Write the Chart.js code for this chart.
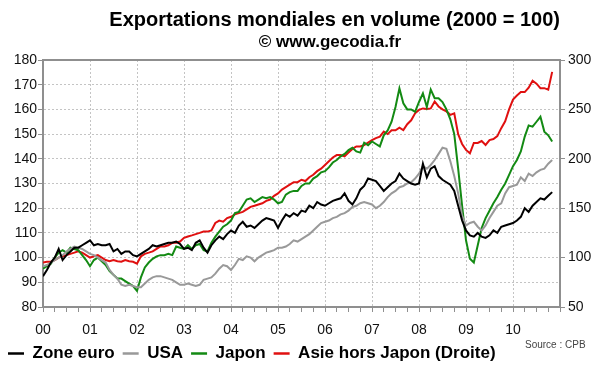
<!DOCTYPE html>
<html>
<head>
<meta charset="utf-8">
<script src="https://cdn.jsdelivr.net/npm/chart.js@4.4.1/dist/chart.umd.min.js"></script>
<style>
  html, body { margin: 0; padding: 0; background: #ffffff; }
  canvas { display: block; }
</style>
</head>
<body>
<canvas id="c" width="600" height="372"></canvas>
<script>
// ---- Data (monthly, Jan 2000 .. Nov 2010, index 2000 = 100) ----
const yearLabels = ['00','01','02','03','04','05','06','07','08','09','10'];
const seriesNames = ['Zone euro', 'USA', 'Japon', 'Asie hors Japon (Droite)'];
const seriesColors = ['#000000', '#999999', '#138a13', '#e01010'];
const titleText = 'Exportations mondiales en volume (2000 = 100)';
const subtitleText = '\u00A9 www.gecodia.fr';
const sourceText = 'Source : CPB';

const zoneEuro = [
  92.5,95,98,100,103.5,99,101,102.5,104,104,105,106,
  107,105,105.5,105,105,105.5,102.5,103.5,101.5,102.5,102.5,101,
  100.5,101.5,102.5,103.5,105,104.5,105,105.5,106,106,106.5,105.5,
  103.5,104,103,106,107,104,102,105,107,108.5,107.5,109.5,
  111,110,113,114.5,112.5,113,112,113.5,115,116,115.5,115,
  112,115,117.5,116.5,118,117,119,118.5,121,120,122.5,121.5,
  121,122,123,123.5,124,126,123,121.5,124,127.5,129,132,
  131.5,131,129,127,128.5,130,131,134,132,131,130,129.5,
  130,138,132.5,136,137,133,131.5,130.5,129.5,127,121,115,
  111,109,108.5,110,108.5,108,109,111,110,112.5,113,113.5,
  114,115,116.5,120,118.5,121,122.5,124,123.5,125,126.5
];
const usa = [
  96.5,97,98,99,100,101,102.5,103.5,104.5,104,103.5,102.5,
  101.5,101,100,99,98,95,93,91.5,89,88.5,89,88.5,
  88,88,89.5,91,92,92.5,92.5,92,91.5,91,90,89,
  89,89.5,89,88.5,89,91,91.5,92,93.5,95.5,97,96.5,
  95,97,99.5,99,100.5,100,98.5,100,101,102,102.5,103,
  104,104,104.5,105.5,107,106.5,107.5,108.5,109.5,111,112.5,114,
  114.5,115,116,116.5,117.5,118,119,120.5,121,122,122.5,122,
  121.5,120,121,122.5,124.5,126,127,128.5,129,130,130.5,132,
  134,137,136,137.5,139.5,142,144.5,144,139,133,126,117,
  113,114,114.5,112.5,111,113,116,118.5,121,122,126,128.5,
  129,129.5,132.5,131,134,133,134.5,135.5,136,138,139.5
];
const japon = [
  95.5,96.5,97.5,100,102,103,102,104,103.5,103,101,99,
  96.5,99,100,98.5,97,94.5,93,91.5,91.5,90.5,89.5,88.5,
  86.5,92,96,98,99.5,100.5,101,101,101.5,101,104.5,104,
  103.5,105,103.5,105,105.5,103,102.5,106,108.5,110.5,112.5,113.5,
  115,118,118.5,121,123.5,124,122.5,123.5,124.5,124,124.5,123.5,
  122,122.5,125.5,126.5,127,127,129,130,130,132,133,134.5,
  135,136.5,138.5,139.5,141,142,143.5,144.5,143,142.5,146.5,145.5,
  147,146,145,149.5,151.5,155,161,168.5,162.5,160,160,159,
  163,166.5,161,168,164.5,164.5,163,160,156,150,136,121,
  107,99.5,98,105,112,116,119,122,124.5,127.5,130,133.5,
  137,139.5,143,149,153.5,153,155,157,151,149.5,147
];
// right axis
const asieHorsJapon = [
  95,95.8,95.8,97.5,100,101.3,102.5,103.8,105,106.3,105,102.5,
  100,101.3,102.5,100,97.5,96.3,97.5,96.3,95.8,97.5,96.3,95.8,
  93.8,101.3,103.8,105,106.3,108.8,111.3,111.3,112.5,115,115,116.3,
  120,121.3,122.5,123.8,125,126.3,126.3,127.5,135,137.5,136.3,140,
  141.3,143.8,145,146.3,148.8,151.3,152.5,153.8,155,157.5,158.8,162.5,
  165,168.8,171.3,173.8,176.3,176.3,178.8,177.5,181.3,183.8,187.5,190,
  193.8,197.5,201.3,203.8,203.8,202.5,206.3,210,212.5,212.5,213.8,216.3,
  218.8,221,222.5,227.5,225,228.8,228.8,231.5,229,235,239,246,
  249.5,251,250.5,251,258,253,250,248,244.5,246,225,215,
  209,205.5,216,216,218,214,219,220,223,231,238,250,
  260,264,267.5,267.5,272,279,276,271.5,271.5,270,288
];

const toXY = arr => arr.map((v, i) => ({ x: i, y: v }));
const FONT = '"Liberation Sans", Arial, Helvetica, sans-serif';
Chart.defaults.font.family = FONT;
Chart.defaults.color = '#111';

const AXIS_COLOR = '#8f8f8f';
const GRID_COLOR = '#c4c4c4';

const extraText = {
  id: 'extraText',
  afterDraw(chart) {
    const ctx = chart.ctx;
    ctx.save();
    ctx.fillStyle = '#000';
    ctx.font = 'bold 17px ' + FONT;
    ctx.textAlign = 'center';
    ctx.textBaseline = 'middle';
    ctx.fillText(subtitleText, 330, 42);
    ctx.font = '10px ' + FONT;
    ctx.fillStyle = '#444';
    ctx.textAlign = 'left';
    ctx.fillText(sourceText, 525, 345);
    ctx.restore();
  }
};

function makeSet(i, values, axis) {
  return {
    label: seriesNames[i],
    data: toXY(values),
    borderColor: seriesColors[i],
    backgroundColor: seriesColors[i],
    pointBorderColor: seriesColors[i],
    pointBackgroundColor: seriesColors[i],
    pointBorderWidth: 2.5,
    yAxisID: axis,
    xAxisID: 'x'
  };
}

new Chart(document.getElementById('c'), {
  type: 'line',
  data: {
    datasets: [
      makeSet(0, zoneEuro, 'y'),
      makeSet(1, usa, 'y'),
      makeSet(2, japon, 'y'),
      makeSet(3, asieHorsJapon, 'y2')
    ]
  },
  options: {
    responsive: false,
    animation: false,
    devicePixelRatio: 1,
    layout: { padding: 0 },
    elements: {
      point: { radius: 0, hoverRadius: 0 },
      line: { borderWidth: 2, tension: 0, fill: false }
    },
    plugins: {
      tooltip: { enabled: false },
      title: {
        display: true,
        text: titleText,
        align: 'end',
        fullSize: false,
        color: '#000',
        font: { size: 20, weight: 'bold' },
        padding: { top: 8, bottom: 28 }
      },
      legend: {
        display: true,
        position: 'bottom',
        align: 'start',
        labels: {
          usePointStyle: true,
          pointStyle: 'line',
          pointStyleWidth: 16,
          padding: 8,
          color: '#000',
          font: { size: 17, weight: 'bold' }
        }
      }
    },
    scales: {
      x: {
        type: 'linear',
        position: 'bottom',
        min: 0,
        max: 132,
        afterFit: s => { s.height = 30; },
        ticks: {
          stepSize: 3,
          autoSkip: false,
          maxRotation: 0,
          padding: 10,
          color: '#111',
          font: { size: 14 },
          callback: v => (v % 12 === 0 && v / 12 < yearLabels.length) ? yearLabels[v / 12] : ''
        },
        grid: {
          color: ctx => (ctx.tick && ctx.tick.value % 12 === 0) ? GRID_COLOR : 'rgba(0,0,0,0)',
          tickColor: AXIS_COLOR,
          tickLength: 5,
          tickWidth: 1,
          lineWidth: 1
        },
        border: { display: true, color: AXIS_COLOR, width: 2, dash: [2, 2] }
      },
      xTop: {
        type: 'linear',
        position: 'top',
        min: 0,
        max: 132,
        ticks: { display: false },
        grid: { display: false, drawTicks: false },
        border: { display: true, color: AXIS_COLOR, width: 2 }
      },
      y: {
        type: 'linear',
        position: 'left',
        min: 80,
        max: 180,
        afterFit: s => { s.width = 43; },
        ticks: { stepSize: 10, padding: 1, color: '#111', font: { size: 14 } },
        grid: { color: GRID_COLOR, tickColor: AXIS_COLOR, tickLength: 5, lineWidth: 1 },
        border: { display: true, color: AXIS_COLOR, width: 2, dash: [2, 2] }
      },
      y2: {
        type: 'linear',
        position: 'right',
        min: 50,
        max: 300,
        afterFit: s => { s.width = 40; },
        ticks: { stepSize: 50, padding: 3, color: '#111', font: { size: 14 } },
        grid: { drawOnChartArea: false, tickColor: AXIS_COLOR, tickLength: 5 },
        border: { display: true, color: AXIS_COLOR, width: 2 }
      }
    }
  },
  plugins: [extraText]
});
</script>
</body>
</html>
